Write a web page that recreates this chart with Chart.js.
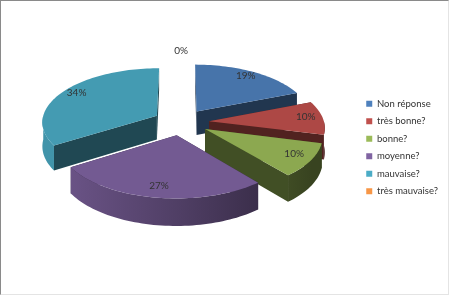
<!DOCTYPE html>
<html>
<head>
<meta charset="utf-8">
<script src="https://cdn.jsdelivr.net/npm/chart.js@4/dist/chart.umd.min.js"></script>
<style>
  html, body { margin: 0; padding: 0; background: #fff; }
  #wrap { position: relative; width: 449px; height: 295px; box-sizing: border-box;
          border-top: 1px solid #8a8a8a; border-left: 1px solid #8a8a8a;
          border-right: 1px solid #e4e4e4; border-bottom: 1px solid #e4e4e4; }
  canvas { display: block; }
</style>
</head>
<body>
<div id="wrap"><canvas id="pie" width="447" height="293"></canvas></div>
<script>
// categories + values (percent)
const categories = ['Non réponse', 'très bonne?', 'bonne?', 'moyenne?', 'mauvaise?', 'très mauvaise?'];
const values = [19, 10, 10, 27, 34, 0];
const colors = ['#4F81BD', '#C0504D', '#9BBB59', '#8064A2', '#4BACC6', '#F79646'];

// 3d look (Excel style, with a bit of perspective)
const SIN_TILT = 0.467;  // how flat the pie is seen
const PERSP = 0.0009;    // front gets bigger, back smaller
const DEPTH = 24;        // thickness in px
const LIFT = 25.5;       // top face sits above the chart centre
const EXPLODE = 28;

function shade(hex, f) {
    const n = parseInt(hex.slice(1), 16);
    const r = Math.round(((n >> 16) & 255) * f);
    const g = Math.round(((n >> 8) & 255) * f);
    const b = Math.round((n & 255) * f);
    return 'rgb(' + r + ',' + g + ',' + b + ')';
}

const pie3d = {
    id: 'pie3d',
    beforeDatasetsDraw(chart) {
        const ctx = chart.ctx;
        const meta = chart.getDatasetMeta(0);
        const total = values.reduce((a, b) => a + b, 0);
        const first = meta.data[0];
        const cx = first.x, cy = first.y - LIFT;

        // world (X right, Z toward viewer, h down) -> screen
        function proj(X, Z, h) {
            const s = 1 / (1 - PERSP * Z);
            return [cx + X * s, cy + Z * SIN_TILT * s + h * s];
        }

        const slices = meta.data.map((arc, i) => {
            const p = arc.getProps(['startAngle', 'endAngle', 'outerRadius'], true);
            const mid = (p.startAngle + p.endAngle) / 2;
            const off = arc.options.offset || 0;
            return {
                i: i, s: p.startAngle, e: p.endAngle, mid: mid, r: p.outerRadius,
                vx: Math.cos(mid) * off, vz: Math.sin(mid) * off
            };
        });

        const order = slices.filter(s => s.e - s.s > 0.0001)
            .sort((a, b) => Math.sin(a.mid) - Math.sin(b.mid));

        function rimPts(sl, a0, a1, h) {
            const pts = [];
            const n = Math.max(2, Math.ceil((a1 - a0) / 0.03));
            for (let k = 0; k <= n; k++) {
                const a = a0 + (a1 - a0) * k / n;
                pts.push(proj(sl.vx + Math.cos(a) * sl.r, sl.vz + Math.sin(a) * sl.r, h));
            }
            return pts;
        }

        function poly(pts, fill) {
            ctx.beginPath();
            pts.forEach((pt, k) => k ? ctx.lineTo(pt[0], pt[1]) : ctx.moveTo(pt[0], pt[1]));
            ctx.closePath();
            ctx.fillStyle = fill;
            ctx.fill();
        }

        ctx.save();
        order.forEach(sl => {
            const col = colors[sl.i];

            // radial cut faces
            [sl.s, sl.e].forEach(a => {
                const ex = sl.vx + Math.cos(a) * sl.r, ez = sl.vz + Math.sin(a) * sl.r;
                poly([proj(sl.vx, sl.vz, 0), proj(ex, ez, 0), proj(ex, ez, DEPTH), proj(sl.vx, sl.vz, DEPTH)],
                    shade(col, 0.42));
            });

            // outer rim, front half only
            const a0 = Math.max(sl.s, 0), a1 = Math.min(sl.e, Math.PI);
            if (a1 > a0) {
                const grad = ctx.createLinearGradient(cx - 130, 0, cx + 130, 0);
                grad.addColorStop(0, shade(col, 0.86));
                grad.addColorStop(0.5, shade(col, 0.62));
                grad.addColorStop(1, shade(col, 0.36));
                const top = rimPts(sl, a0, a1, 0);
                const bot = rimPts(sl, a0, a1, DEPTH).reverse();
                poly(top.concat(bot), grad);
            }

            // top face
            poly([proj(sl.vx, sl.vz, 0)].concat(rimPts(sl, sl.s, sl.e, 0)), shade(col, 0.9));
        });

        // percentage labels
        ctx.font = '10px Lato, "Noto Sans", sans-serif';
        ctx.fillStyle = '#333';
        ctx.textAlign = 'center';
        ctx.textBaseline = 'middle';
        slices.forEach(sl => {
            const v = values[sl.i];
            const txt = Math.round(v / total * 100) + '%';
            const f = v === 0 ? 1.3 : 0.85;
            const pt = proj(sl.vx + Math.cos(sl.mid) * sl.r * f, sl.vz + Math.sin(sl.mid) * sl.r * f, 0);
            ctx.fillText(txt, pt[0], pt[1] - (v === 0 ? 0 : 2));
        });
        ctx.restore();
        return false;
    }
};

new Chart(document.getElementById('pie'), {
    type: 'pie',
    data: {
        labels: categories,
        datasets: [{
            data: values,
            backgroundColor: colors,
            borderWidth: 0,
            offset: EXPLODE,
            radius: 115
        }]
    },
    options: {
        responsive: false,
        animation: false,
        layout: { padding: { left: 3, right: 0, top: 0, bottom: 0 } },
        plugins: {
            tooltip: { enabled: false },
            legend: {
                position: 'right',
                labels: {
                    boxWidth: 6,
                    boxHeight: 6,
                    padding: 8,
                    color: '#333',
                    font: { family: 'Lato, "Noto Sans", sans-serif', size: 9.5 }
                }
            }
        }
    },
    plugins: [pie3d]
});
</script>
</body>
</html>
